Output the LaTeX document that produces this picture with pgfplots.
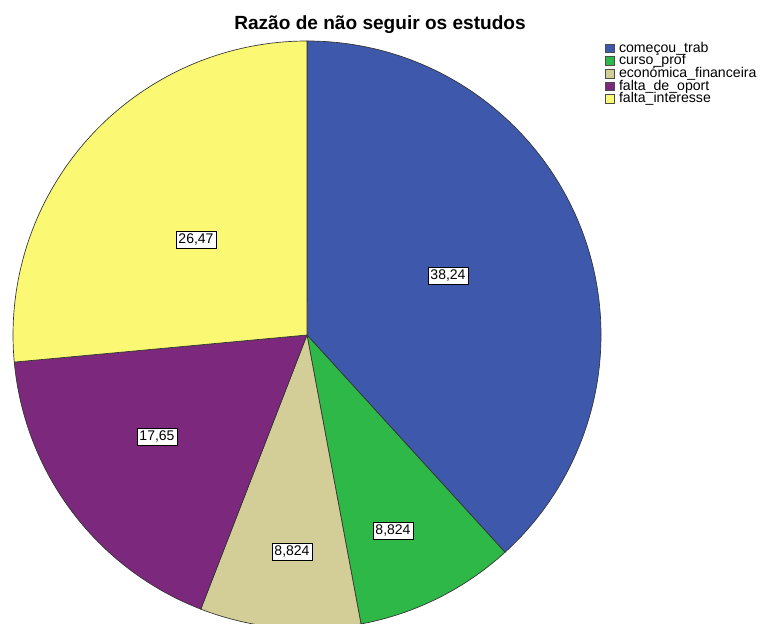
\documentclass[border=0pt]{standalone}
\usepackage{pgfplots}
\pgfplotsset{compat=1.18}
\usepackage{pgfplotstable}
\usepackage{fontspec}
\setmainfont{Liberation Sans}

\definecolor{c0}{RGB}{62,88,172}
\definecolor{c1}{RGB}{46,184,72}
\definecolor{c2}{RGB}{211,206,151}
\definecolor{c3}{RGB}{124,40,125}
\definecolor{c4}{RGB}{251,248,115}

% percent of each slice, label box position (px from left, px from bottom)
\pgfplotstableread{
value lx ly
38.24 448 348
8.824 393 93
8.824 292 72
17.65 157 187
26.47 196 384
}\piedata

\begin{document}
\begin{tikzpicture}
% slice angles: clockwise from 12 o'clock, as SPSS does
\xdef\total{0}
\pgfplotstableforeachcolumnelement{value}\of\piedata\as\v{%
  \pgfmathsetmacro\tmp{\total+\v}\xdef\total{\tmp}}
\xdef\cumang{90}
\pgfplotstableforeachcolumnelement{value}\of\piedata\as\v{%
  \pgfmathsetmacro\slicedeg{\v/\total*360}%
  \expandafter\xdef\csname sa\pgfplotstablerow\endcsname{\cumang}%
  \pgfmathsetmacro\tmp{\cumang-\slicedeg}\xdef\cumang{\tmp}%
  \expandafter\xdef\csname ea\pgfplotstablerow\endcsname{\cumang}%
  \expandafter\xdef\csname val\pgfplotstablerow\endcsname{\v}%
  \pgfplotstablegetelem{\pgfplotstablerow}{lx}\of\piedata
  \expandafter\xdef\csname lx\pgfplotstablerow\endcsname{\pgfplotsretval}%
  \pgfplotstablegetelem{\pgfplotstablerow}{ly}\of\piedata
  \expandafter\xdef\csname ly\pgfplotstablerow\endcsname{\pgfplotsretval}%
}
\begin{axis}[
    width=576pt, height=468pt, scale only axis,
    xmin=0, xmax=768, ymin=0, ymax=624,
    hide axis, clip=true,
    legend cell align=left,
    legend image code/.code={\draw[#1] (0pt,-3.3pt) rectangle (6.8pt,3.3pt);},
    legend style={at={(axis cs:601,585)}, anchor=north west, draw=none, fill=none,
        font=\fontsize{10.6}{12}\selectfont, row sep=0pt,
        nodes={inner sep=0.1pt, text height=7.6pt, text depth=1.7pt},
        /tikz/every odd column/.append style={column sep=3pt}},
]
\addlegendimage{fill=c0, draw=black!70}
\addlegendentry{começou\_trab}
\addlegendimage{fill=c1, draw=black!70}
\addlegendentry{curso\_prof}
\addlegendimage{fill=c2, draw=black!70}
\addlegendentry{económica\_financeira}
\addlegendimage{fill=c3, draw=black!70}
\addlegendentry{falta\_de\_oport}
\addlegendimage{fill=c4, draw=black!70}
\addlegendentry{falta\_interesse}

\pgfplotsinvokeforeach{0,...,4}{
  \fill[fill=c#1, draw=black!80, line width=0.5pt] (axis cs:307,289)
    -- ++(\csname sa#1\endcsname:220.5pt)
    arc[start angle=\csname sa#1\endcsname, end angle=\csname ea#1\endcsname, radius=220.5pt]
    -- cycle;
}
\pgfplotsinvokeforeach{0,...,4}{
  \node[fill=white, draw=black, line width=0.6pt, inner sep=1.9pt,
        font=\fontsize{10.5}{12}\selectfont]
    at (axis cs:\csname lx#1\endcsname,\csname ly#1\endcsname)
    {\pgfmathprintnumber[use comma, precision=4, assume math mode=true]{\csname val#1\endcsname}};
}
\node[anchor=base, font=\fontsize{14.3}{17}\selectfont\bfseries]
  at (axis cs:380,594) {Razão de não seguir os estudos};
\end{axis}
\pgfresetboundingbox
\useasboundingbox (current axis.south west) rectangle (current axis.north east);
\end{tikzpicture}
\end{document}
